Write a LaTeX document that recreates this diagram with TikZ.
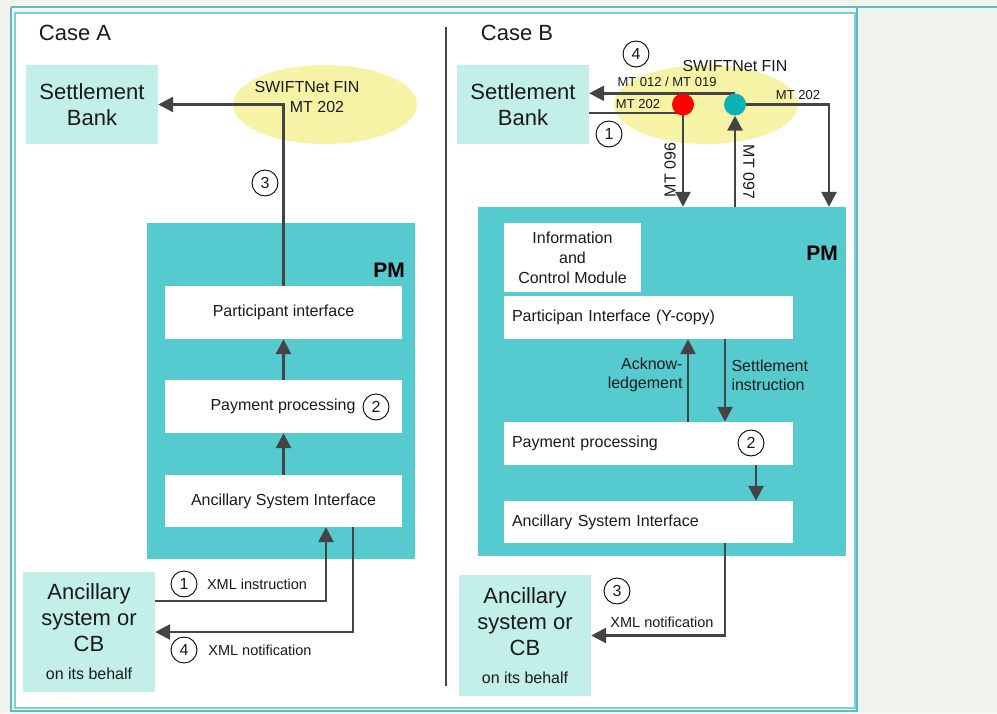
\documentclass[tikz,border=0pt]{standalone}
\usepackage{fontspec}
\setmainfont{Liberation Sans}
\usetikzlibrary{arrows.meta,shapes.geometric,calc}
\definecolor{bgc}{HTML}{F2F2EE}
\definecolor{fo}{HTML}{58BEBE}
\definecolor{fi}{HTML}{7ECFD8}
\definecolor{aqua}{HTML}{C2EFE8}
\definecolor{pmc}{HTML}{55CBD0}
\definecolor{yel}{HTML}{F6F3A6}
\definecolor{arr}{HTML}{444444}
\definecolor{txt}{HTML}{1A1A1A}
\definecolor{redc}{HTML}{FF0000}
\definecolor{tealc}{HTML}{0BB3B6}
\pgfdeclarelayer{back}
\pgfdeclarelayer{mid}
\pgfsetlayers{back,mid,main}
\begin{document}
\begin{tikzpicture}[x=1pt,y=-1pt,
  every node/.style={text=txt},
  lbox/.style={fill=aqua, inner sep=0pt, align=center, font=\fontsize{22}{26}\selectfont},
  wbox/.style={fill=white, inner sep=0pt, align=center, font=\fontsize{16}{20}\selectfont},
  wboxl/.style={wbox, align=left, inner xsep=8pt, text width=273pt},
  pmbox/.style={fill=pmc, inner sep=0pt},
  cloud/.style={ellipse, fill=yel, inner sep=0pt, minimum width=184, minimum height=79},
  flow/.style={draw=arr, line width=2.8pt, -{Triangle[length=15pt,width=15pt]}},
  conn/.style={draw=arr, line width=2.8pt},
  num/.style={circle, draw=black, line width=0.9pt, minimum size=26, inner sep=0pt, font=\fontsize{16}{16}\selectfont},
  big/.style={font=\fontsize{22}{26}\selectfont},
  mid/.style={font=\fontsize{16}{19}\selectfont},
  small/.style={font=\fontsize{14.5}{17}\selectfont},
  tiny/.style={font=\fontsize{13}{15}\selectfont},
  pmlabel/.style={font=\fontsize{21}{24}\selectfont\bfseries, text=black},
  dot/.style={circle, inner sep=0pt, minimum size=22}
]
\useasboundingbox (0,0) rectangle (997,713);
\begin{pgfonlayer}{back}
% page and frame
\fill[bgc] (0,0) rectangle (997,713);
\draw[fo, line width=2pt] (11,7) -- (997,7);
\draw[fo, line width=2pt] (11,7) -- (11,711) -- (857,711) -- (857,7);
\draw[fi, line width=2pt, fill=white] (14.5,13) rectangle (854.5,708);
% divider
\draw[arr, line width=2pt] (446,27) -- (446,686);

% ---------- Case A ----------
\node[big] (caseA) at (75,33) {Case A};
\node[lbox, minimum width=132, minimum height=79] (sbA) at (92,104.5) {Settlement\\Bank};
\node[cloud] (swA) at (325,104.5) {};
\node[mid] (swAt) at (307,87) {SWIFTNet FIN};
\node[mid] (swAm) at (317,107) {MT 202};
\node[pmbox, minimum width=268, minimum height=336] (pmA) at (281,391) {};
\node[pmlabel] (pmAl) at (389,270) {PM};
\node[wbox, minimum width=237, minimum height=53] (piA) at (283.5,312.5) {Participant interface};
\node[wbox, minimum width=237, minimum height=53] (ppA) at (283.5,406.5) {};
\node[mid] (ppAt) at (283,406) {Payment processing};
\node[wbox, minimum width=237, minimum height=52] (asiA) at (283.5,501) {Ancillary System Interface};
\node[lbox, minimum width=132, minimum height=120] (ancA) at (89,632)
  {Ancillary\\system or\\CB\\[2pt]{\fontsize{16}{19}\selectfont on its behalf}};

% ---------- Case B ----------
\node[big] (caseB) at (517,33) {Case B};
\node[lbox, minimum width=132, minimum height=79] (sbB) at (523,104.5) {Settlement\\Bank};
\node[cloud] (swB) at (706,104.5) {};
\node[mid] (swBt) at (735,66) {SWIFTNet FIN};
\node[pmbox, minimum width=368, minimum height=349] (pmB) at (662,381.5) {};
\node[pmlabel] (pmBl) at (822,253) {PM};
\node[wbox, minimum width=137, minimum height=69] (icm) at (572.5,257.5) {Information\\and\\Control Module};
\node[wboxl, minimum height=43] (piB) at (648.5,317.5) {Participan Interface (Y-copy)};
\node[wboxl, minimum height=43] (ppB) at (648.5,443.5) {Payment processing};
\node[wboxl, minimum height=42] (asiB) at (648.5,522) {Ancillary System Interface};
\node[lbox, minimum width=132, minimum height=121] (ancB) at (525,635.5)
  {Ancillary\\system or\\CB\\[2pt]{\fontsize{16}{19}\selectfont on its behalf}};
\end{pgfonlayer}

% dots (main layer, defined before connectors)
\node[dot, fill=redc] (rdot) at (683,104.5) {};
\node[dot, fill=tealc] (tdot) at (735,104.5) {};

\begin{pgfonlayer}{mid}
% Case A connectors
\draw[flow] (asiA.north) -- (ppA.south);
\draw[flow] (ppA.north) -- (piA.south);
\draw[flow] (piA.north) |- (sbA.east);
\draw[flow] ([yshift=31pt]ancA.east) -| ([xshift=42.5pt]asiA.south);
\draw[flow] ([xshift=69.5pt]asiA.south) |- (ancA.east);
% Case B connectors
\draw[flow] (tdot.north) -- (tdot.north -| sbB.east);
\draw[conn] ([yshift=-8.5pt]sbB.east) -- ([yshift=-8.5pt]sbB.east -| rdot.center);
\draw[flow] (rdot.center) -- (rdot.center |- pmB.north);
\draw[flow] (tdot.center |- pmB.north) -- (tdot.south);
\draw[flow] (tdot.center) -| ([xshift=167pt]pmB.north);
\draw[flow] ([xshift=39.5pt]ppB.north) -- ([xshift=39.5pt]piB.south);
\draw[flow] ([xshift=76.5pt]piB.south) -- ([xshift=76.5pt]ppB.north);
\draw[flow] ([xshift=107.5pt]ppB.south) -- ([xshift=107.5pt]asiB.north);
\draw[flow] ([xshift=76.5pt]asiB.south) |- (ancB.east);
\end{pgfonlayer}

% labels and step numbers, Case A
\node[num] (nA3) at (265,183) {3};
\node[num] (nA2) at (376,407) {2};
\node[num] (nA1) at (184,584) {1};
\node[small] (xiA) at (257,584) {XML instruction};
\node[num] (nA4) at (184,650) {4};
\node[small] (xnA) at (260,650) {XML notification};

% labels and step numbers, Case B
\node[num] (nB4) at (636,54) {4};
\node[num] (nB1) at (609,134) {1};
\node[tiny] (m012) at (667,82) {MT 012 / MT 019};
\node[tiny] (m202a) at (638,104) {MT 202};
\node[tiny] (m202b) at (798,95) {MT 202};
\node[mid, rotate=90] (m096) at (670,170) {MT 096};
\node[mid, rotate=-90] (m097) at (749,172) {MT 097};
\node[mid, align=right, anchor=east] (ack) at (686,375) {Acknow-\\ledgement};
\node[mid, align=left, anchor=west] (sti) at (728,375) {Settlement\\instruction};
\node[num] (nB2) at (751,443) {2};
\node[num] (nB3) at (617,591) {3};
\node[small] (xnB) at (662,622) {XML notification};
\end{tikzpicture}
\end{document}
